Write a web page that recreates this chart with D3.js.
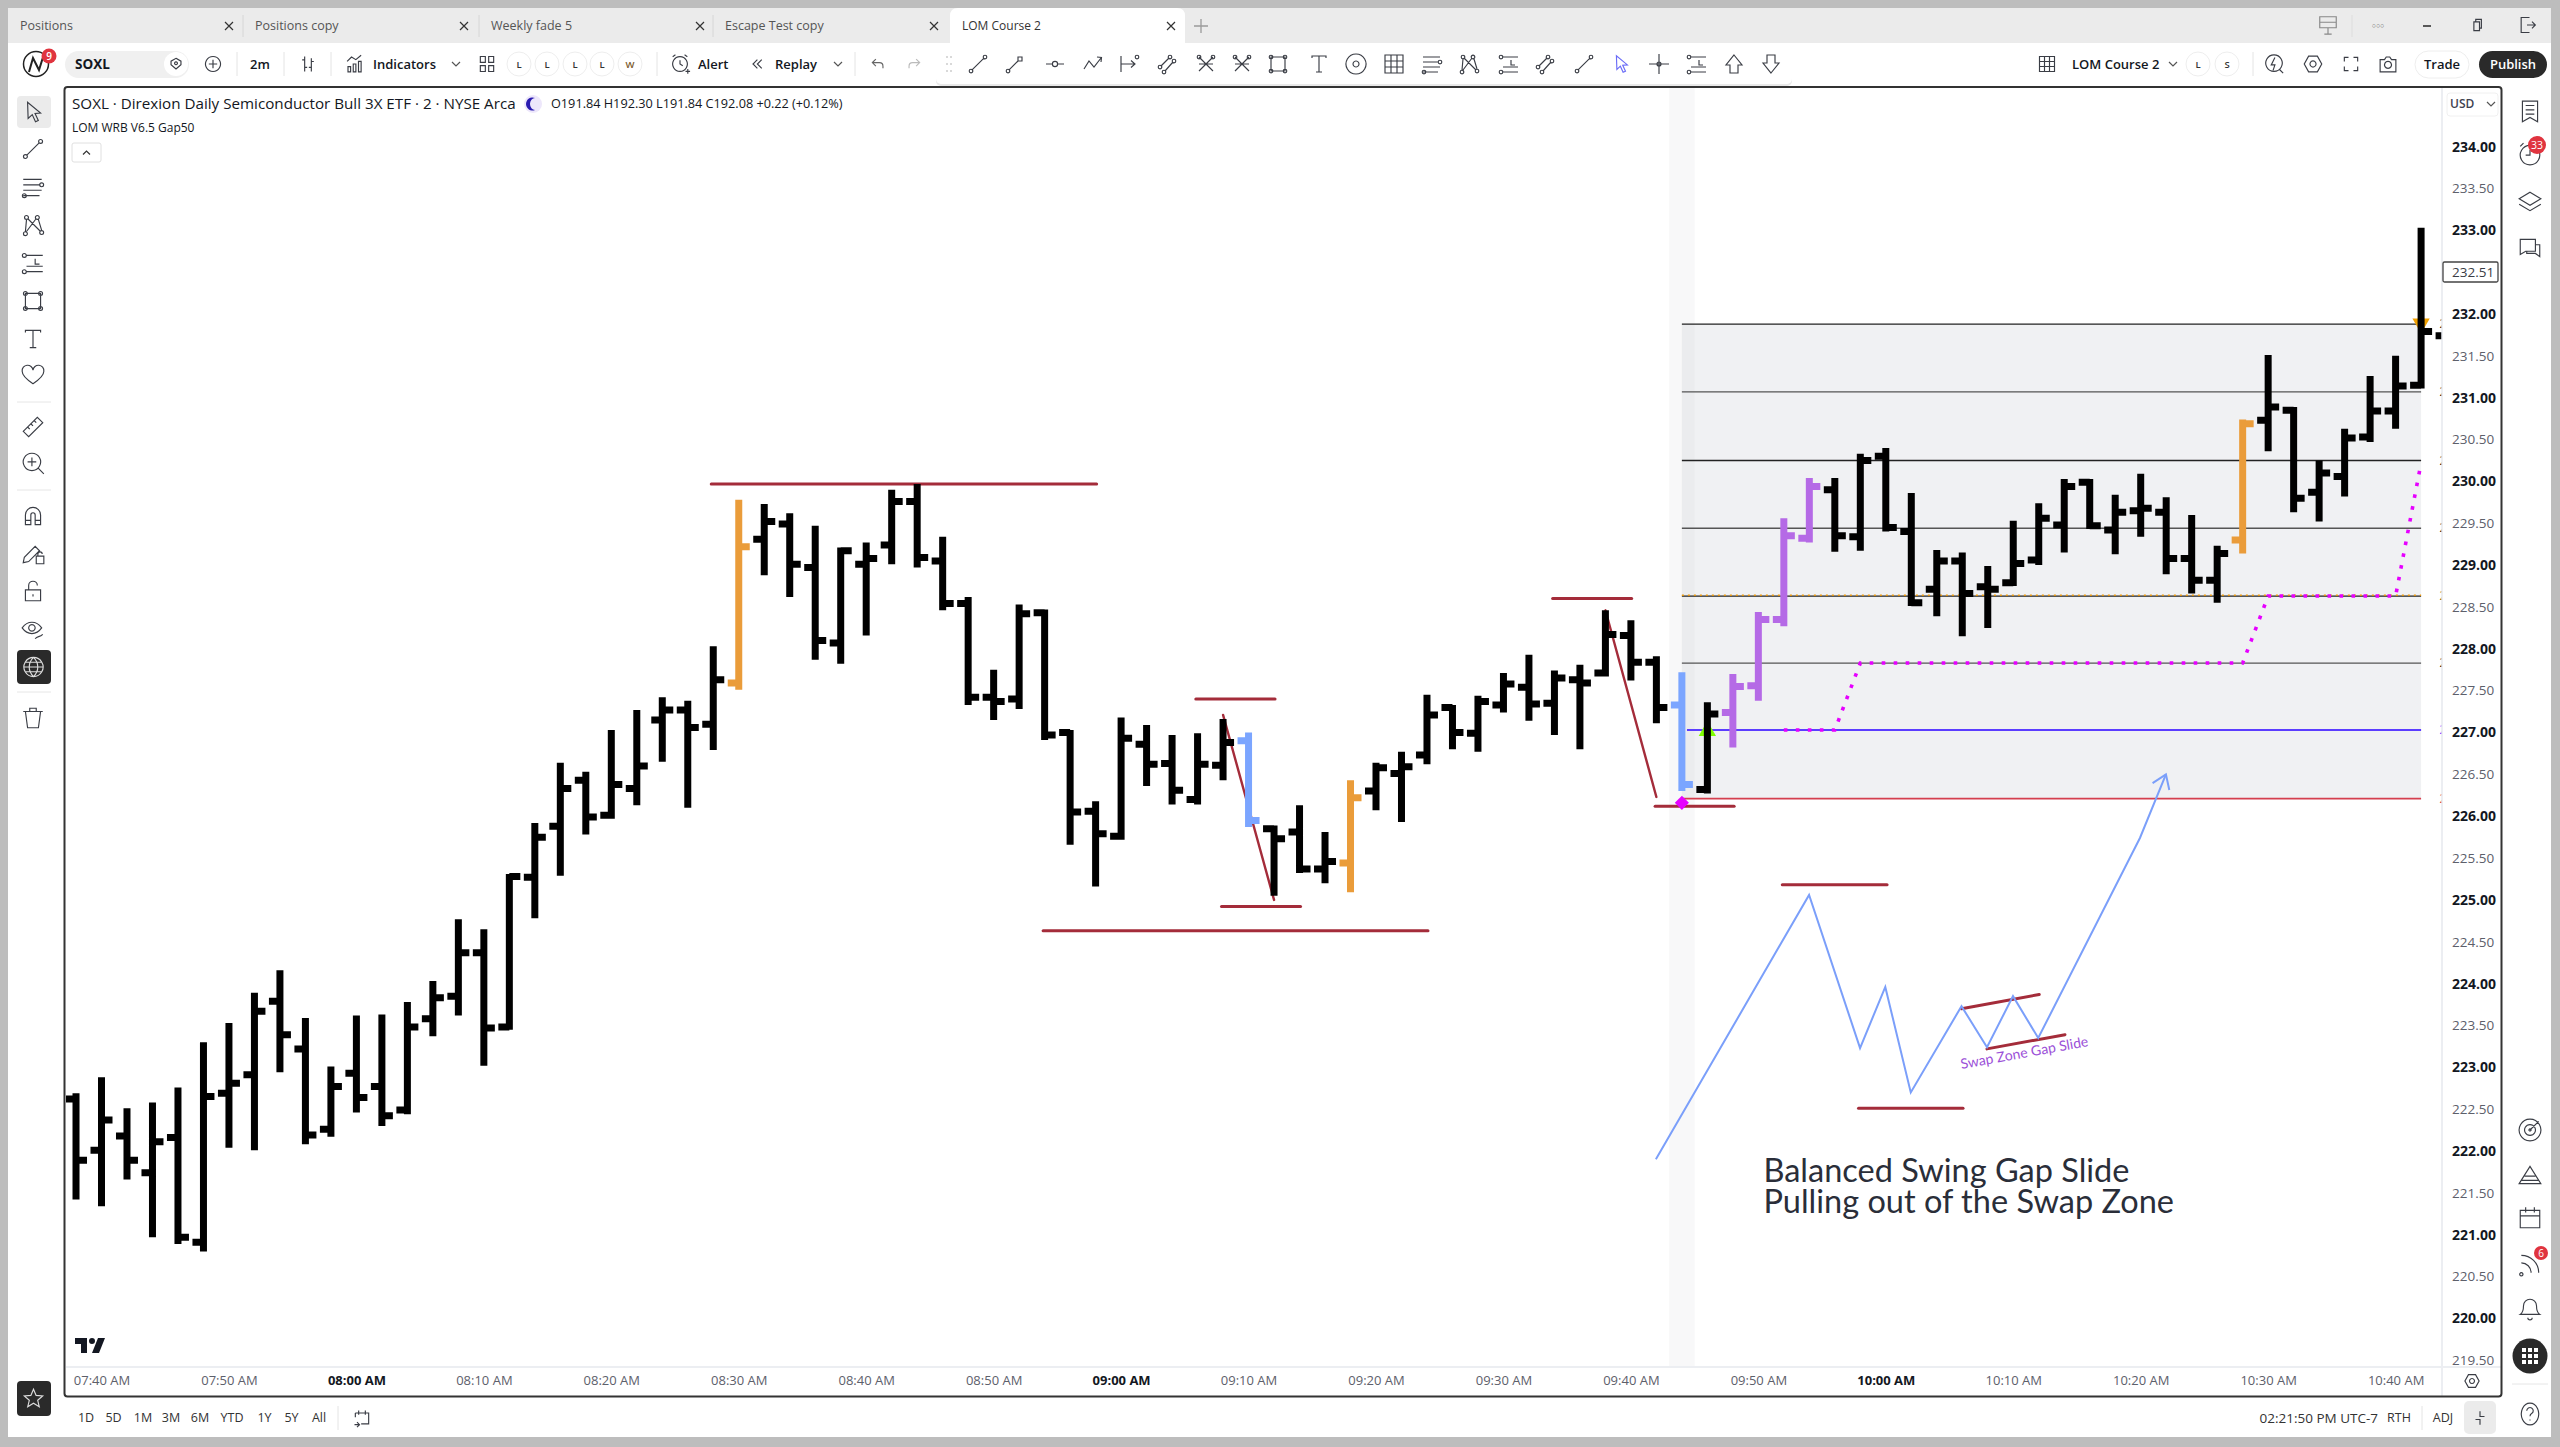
<!DOCTYPE html>
<html>
<head>
<meta charset="utf-8">
<script src="https://cdn.jsdelivr.net/npm/d3@7"></script>
<style>
  html, body { margin: 0; padding: 0; background: #bdbdbd; }
  svg { display: block; }
  text { font-family: "Open Sans", "Noto Sans", sans-serif; }
</style>
</head>
<body>
<svg id="chart" width="2560" height="1447"></svg>
<script>
// ---- data ----
// bars are 2 minutes apart, the first one is 07:38
const barOpen = [222.62,222.01,222.18,221.74,222.16,220.91,222.69,222.91,223.79,223.22,222.26,222.93,222.77,222.49,223.58,223.85,224.37,223.48,225.27,225.88,226.43,226.01,226.33,227.15,227.27,227.10,227.59,229.31,229.49,228.97,228.07,229.01,229.24,229.76,229.05,228.54,227.42,227.40,228.43,227.00,226.06,225.76,226.86,226.63,226.20,226.61,226.90,225.85,225.81,225.37,225.44,226.30,226.51,226.73,227.30,226.99,227.33,227.54,227.35,227.63,227.71,228.16,227.84,227.33,226.32,227.24,227.56,228.35,229.32,229.90,229.34,230.30,229.40,228.71,229.05,228.74,228.79,229.06,229.48,229.99,229.42,229.65,229.63,229.08,228.82,229.30,230.73,230.85,229.87,230.06,230.53,230.84,231.15,231.74]
const barHigh = [222.69,222.88,222.51,222.58,222.76,223.30,223.53,223.89,224.16,223.59,223.01,223.62,223.63,223.78,224.03,224.77,224.65,225.31,225.92,226.64,226.53,227.03,227.27,227.42,227.38,228.03,229.78,229.73,229.62,229.47,229.21,229.27,229.90,229.97,229.34,228.62,227.75,228.53,228.47,227.03,226.18,227.18,227.09,226.97,226.99,227.16,227.00,225.89,226.13,225.81,226.43,226.64,226.77,227.45,227.33,227.44,227.71,227.93,227.74,227.81,228.46,228.34,227.91,227.72,227.36,227.70,228.44,229.56,230.04,230.04,230.33,230.40,229.86,229.18,229.15,228.99,229.53,229.74,230.03,230.03,229.84,230.09,229.81,229.60,229.23,230.74,231.51,230.89,230.25,230.63,231.26,231.50,233.03,231.74]
const barLow = [221.42,221.34,221.66,220.97,220.89,220.80,222.04,222.01,222.94,222.08,222.17,222.46,222.30,222.44,223.37,223.62,223.02,223.45,224.78,225.29,225.78,225.97,226.13,226.65,226.10,226.79,227.51,228.88,228.62,227.87,227.82,228.16,229.01,228.97,228.46,227.33,227.15,227.28,226.91,225.66,225.16,225.72,226.36,226.14,226.14,226.43,225.87,225.05,225.32,225.20,225.09,226.07,225.93,226.62,226.80,226.77,227.24,227.14,226.97,226.80,227.67,227.62,227.11,226.30,226.27,226.82,227.38,228.27,229.27,229.16,229.17,229.40,228.51,228.39,228.15,228.25,228.75,229.00,229.15,229.43,229.13,229.34,228.89,228.66,228.55,229.14,230.36,229.63,229.52,229.82,230.47,230.63,231.11,231.74]
const barClose = [221.89,222.37,221.89,222.11,220.97,222.65,222.81,223.67,223.39,222.19,222.77,222.64,222.42,223.48,223.83,224.37,223.47,225.28,225.75,226.33,225.99,226.38,226.60,227.27,227.06,227.63,229.22,229.52,229.01,228.10,229.17,229.08,229.76,229.09,228.54,227.42,227.37,228.42,226.97,226.05,225.79,226.93,226.62,226.31,226.62,226.88,225.95,225.73,225.37,225.46,226.22,226.58,226.59,227.21,227.00,227.37,227.58,227.34,227.65,227.59,228.17,227.84,227.30,226.38,227.22,227.55,228.35,229.35,229.94,229.35,230.25,229.45,228.55,229.05,228.66,228.71,229.02,229.56,229.94,229.47,229.63,229.68,229.08,228.82,229.14,230.69,230.89,229.80,230.10,230.52,230.84,231.14,231.79,231.74]

const orangeBars = ['08:30', '09:18', '10:28']
const blueBars = ['09:10', '09:44']
const purpleBars = ['09:48', '09:50', '09:52', '09:54']

const priceTicks = d3.range(219.5, 234.5, 0.5)

// the levels of the zone on the right
const zoneTop = 231.88
const zoneBottom = 226.21
const greyLevels = [231.88, 231.07, 230.25, 229.44, 228.63, 227.83]
const blueLevel = 227.03
const orangeLevel = 228.63

// magenta stepped line, [bar number, price]
const stepLine = [[66,227.03],[68,227.03],[69,227.83],[84,227.83],[85,228.63],[90,228.63],[91,230.22]]

// drawn lines, bar numbers count from 07:40
const swingLevels = [
  [23.92,39.04,229.97],[42.93,46.04,227.40],[43.94,47.04,224.92],[36.94,52.04,224.63],
  [56.93,60.03,228.60],[60.95,64.05,226.12],[65.94,70.05,225.18],[68.93,73.03,222.51]
]
const slantLines = [
  [[44,227.21],[46,225.00]],
  [[59,228.46],[61,226.23]],
  [[72.97,223.70],[76.02,223.87]],
  [[73.97,223.22],[77.03,223.39]]
]
const sketchLine = [[60.98,221.90],[66.99,225.06],[68.99,223.23],[69.98,223.96],[70.98,222.70],[72.97,223.73],[73.97,223.24],[74.99,223.85],[75.98,223.35],[79.97,225.74],[80.99,226.50]]

const tabNames = ['Positions', 'Positions copy', 'Weekly fade 5', 'Escape Test copy', 'LOM Course 2']
const rangeNames = ['1D', '5D', '1M', '3M', '6M', 'YTD', '1Y', '5Y', 'All']

// ---- scales ----
const startTime = new Date(2024, 0, 2, 7, 40)
const barTime = n => new Date(startTime.getTime() + n * 120000)
const fmtKey = d3.timeFormat('%H:%M')

const plot = { left: 66, right: 2442, top: 88, bottom: 1367 }

const xScale = d3.scaleTime().domain([barTime(0), barTime(90)]).range([101.5, 2395.6])
const yScale = d3.scaleLinear().domain([234, 220]).range([146.6, 1318.4])

const bars = barHigh.map((h, i) => ({
  time: barTime(i - 1), open: barOpen[i], high: h, low: barLow[i], close: barClose[i]
}))

const svg = d3.select('#chart')
const dark = '#131722'
const grey = '#5d606b'
const iconCol = '#3a3d45'

function txt(g, x, y, s, o = {}) {
  return g.append('text')
    .attr('x', x).attr('y', y)
    .attr('dy', '0.35em')
    .attr('text-anchor', o.anchor || 'start')
    .attr('font-size', o.size || 13)
    .attr('font-weight', o.weight || 400)
    .attr('fill', o.fill || dark)
    .text(s)
}

const dot = (x, y, r = 1.8) => `M${x - r} ${y}a${r} ${r} 0 1 0 ${2 * r} 0a${r} ${r} 0 1 0 ${-2 * r} 0`

const icons = {
  cursor: 'M7 3l.5 15 3.8-3.6 3 6.6 2.6-1.2-3-6.4 5.1-.4z',
  line: dot(5, 19) + dot(19, 5) + 'M6.3 17.7L17.7 6.3',
  ray: dot(5, 19) + 'M6.3 17.7L15 9' + 'M15 5l4 0 0 4-4 0z',
  hline: 'M3 12h6M15 12h6' + dot(12, 12, 2.6),
  path: 'M2 17l5-8 5 6 7-9M15 5l4.5 .5-.5 4.5',
  measure: 'M4 4v16M4 12h14M14 8.5L18 12l-4 3.5' + dot(20, 5),
  channel: dot(5, 15) + dot(15, 5) + dot(9, 20) + dot(19, 9) + 'M6 14L14 6M10 19L18 10',
  fork: 'M5 5L19 19M19 5L5 19M5 12h14' + dot(5, 5) + dot(19, 5),
  lines: 'M3 5h17M3 10h15M3 15h17M3 20h15' + dot(20, 10) + dot(4, 20),
  pattern: dot(6, 5) + dot(16, 5) + dot(5, 20) + dot(20, 19) + 'M6 7l-1 11M7 6l12 12M15 6L6 18M17 7l3 10',
  longlevels: dot(4, 5) + dot(4, 20) + 'M6 5h15M6 20h15M6 15h15M14 8v5h4',
  rect: 'M5 5h14v14H5z' + dot(5, 5) + dot(19, 5) + dot(5, 19) + dot(19, 19),
  text: 'M5 6V4h14v2M12 4v16M9 20h6',
  heart: 'M12 20C6 16 2 12 2 8.500a5 5 0 0 1 10-1 5 5 0 0 1 10 1c0 3.500-4 7.500-10 11.500z',
  ruler: 'M3 16L16 3l5 5L8 21zM7 12l2 2M10 9l2 2M13 6l2 2',
  zoomin: 'M11 3a8 8 0 1 0 .01 0zM11 7v8M7 11h8M17 17l5 5',
  magnet: 'M5 20V11a7 7 0 0 1 14 0v9h-5v-9a2 2 0 0 0-4 0v9zM5 16h5M14 16h5',
  pencil: 'M3 20l1-5L14 5l4 4L8 19zM15 14h7v7h-7zM16.500 14v-2a2 2 0 0 1 4 0',
  lock: 'M5 11h14v10H5zM8 11V7a4 4 0 0 1 8 0M12 15v2',
  eye: 'M2 11c5-7 13-7 18 0-5 7-13 7-18 0zM11 8a3 3 0 1 0 .01 0zM14 21c2-3 4-1 7-4',
  trash: 'M3 6h18M9 6V3h6v3M5 6l2 15h10l2-15',
  globe: 'M12 2a10 10 0 1 0 .01 0zM2 12h20M12 2c-6 6-6 14 0 20M12 2c6 6 6 14 0 20M3.500 7h17M3.500 17h17',
  star: 'M12 2l3 7 7.500.600-5.700 5 1.800 7.400-6.600-4-6.600 4 1.800-7.400-5.700-5L9 9z',
  plusc: 'M12 3a9 9 0 1 0 .01 0zM12 7v10M7 12h10',
  barsI: 'M8 3v18M5 7h3M8 16h3M16 5v16M13 16h3M16 9h3',
  indic: 'M4 21v-6h3v6zM10 21v-9h3v9zM16 21V9h3v12zM3 9l5-5 5 3 6-5',
  grid2: 'M4 3h6v7H4zM14 3h6v7h-6zM4 14h6v7H4zM14 14h6v7h-6z',
  alert: 'M12 4a8 8 0 1 0 .01 0zM12 8v4l3 2M4 4l3-2M20 4l-3-2M18 20h5M20.500 17.500v5',
  replay: 'M11 5l-7 7 7 7M18 5l-7 7 7 7',
  undo: 'M9 5L4 10l5 5M4 10h10a5 5 0 0 1 5 5v3',
  redo: 'M15 5l5 5-5 5M20 10H10a5 5 0 0 0-5 5v3',
  circ: 'M12 2a10 10 0 1 0 .01 0zM12 9a3 3 0 1 0 .01 0z',
  gridbox: 'M3 3h18v18H3zM9 3v18M15 3v18M3 9h18M3 15h18',
  crossx: 'M12 2v20M2 12h20' + dot(12, 12, 2),
  up: 'M12 3l8 10h-4v8H8v-8H4z',
  down: 'M12 21l8-10h-4V3H8v8H4z',
  bolt: 'M12 2a9 9 0 1 0 .01 0zM13 5l-4 8h4l-2 6M18 18l4 4',
  hexa: 'M7 3h10l5 9-5 9H7l-5-9zM12 8.500a3.500 3.500 0 1 0 .01 0z',
  full: 'M4 9V4h5M15 4h5v5M20 15v5h-5M9 20H4v-5',
  camera: 'M3 7h5l2-3h4l2 3h5v14H3zM12 9a4 4 0 1 0 .01 0z',
  monitor: 'M3 3h18v12H3zM3 9h18M12 15v7M8 22h8',
  restore: 'M7 7h9v14H7zM10 7V3h9v14h-3',
  exit: 'M15 3H5v18h10M12 12h10M18 8l4 4-4 4',
  book: 'M5 2h14v19l-7-4-7 4zM8 6h8M8 10h8M8 14h8',
  clock: 'M12 4a9 9 0 1 0 .01 0zM12 8v5H8M3 5l3-3',
  layers: 'M12 3l10 6-10 6L2 9zM2 14l10 6 10-6',
  chat: 'M3 4h14v11H8l-5 3zM17 9h4v11l-4-3H9v-2',
  target: 'M12 2a10 10 0 1 0 .01 0zM12 7a5 5 0 1 0 .01 0zM12 11a1 1 0 1 0 .01 0zM12 12l8-8',
  hill: 'M2 20L12 4l10 16zM7 13h10M4 17h16',
  calendar: 'M3 5h18v16H3zM3 10h18M8 2v5M16 2v5',
  feed: 'M4 20a1.500 1.500 0 1 0 .01 0zM4 11a9 9 0 0 1 9 9M4 4a16 16 0 0 1 16 16',
  bell: 'M12 3a6 6 0 0 0-6 6c0 6-3 8-3 8h18s-3-2-3-8a6 6 0 0 0-6-6zM10 20a2 2 0 0 0 4 0',
  help: 'M12 2a8 10 0 1 0 .01 0zM9 9a3 3 0 1 1 4.500 2.600c-1 .6-1.500 1.200-1.500 2.400M12 17v1',
  calgo: 'M4 6h16v13H11M8 3v5M16 3v5M4 6v5M3 20h5M6 17l3 3-3 3',
  jump: 'M12 3v7h6M12 21v-7H6',
  diamond: 'M12 4l7 4v5l-7 6-7-6V8zM12 9a2 2 0 1 0 .01 0z'
}

function icon(g, name, cx, cy, o = {}) {
  const size = o.size || 24
  const k = size / 24
  return g.append('path')
    .attr('d', icons[name])
    .attr('transform', `translate(${cx - size / 2},${cy - size / 2}) scale(${k})`)
    .attr('fill', o.fill || 'none')
    .attr('stroke', o.stroke || iconCol)
    .attr('stroke-width', (o.sw || 1.15) / k)
}

// ---- window ----
const chrome = svg.append('g')
chrome.append('rect').attr('x', 8).attr('y', 8).attr('width', 2543).attr('height', 1429).attr('fill', '#ffffff')
chrome.append('rect').attr('x', 8).attr('y', 8).attr('width', 2543).attr('height', 35).attr('fill', '#ebebeb')

// tabs
const tabLeft = [8, 243, 479, 713, 950]
chrome.append('path')
  .attr('d', 'M950 43V16q0-8 8-8H1177q8 0 8 8V43z')
  .attr('fill', '#fff')
tabNames.forEach((name, i) => {
  txt(chrome, tabLeft[i] + 12, 26, name, { size: i == 4 ? 12 : 12.5, fill: i == 4 ? '#333' : '#555' })
  const cx = tabLeft[i] + 221
  chrome.append('path').attr('d', `M${cx - 4} 22l8 8m0-8l-8 8`).attr('stroke', '#333').attr('stroke-width', 1.2)
  if (i > 0 && i < 4) chrome.append('path').attr('d', `M${tabLeft[i]} 15v22`).attr('stroke', '#d6d6d6')
})
chrome.append('path').attr('d', 'M1201 19v14M1194 26h14').attr('stroke', '#9a9a9a').attr('stroke-width', 1.3)

// window buttons
icon(chrome, 'monitor', 2328, 25, { size: 22, stroke: '#888' })
chrome.append('path').attr('d', 'M2352 15v22').attr('stroke', '#ddd')
txt(chrome, 2378, 26, '○○○', { size: 7, anchor: 'middle', fill: '#666' })
chrome.append('path').attr('d', 'M2423 26h8').attr('stroke', '#333').attr('stroke-width', 1.6)
icon(chrome, 'restore', 2477, 25, { size: 15 })
icon(chrome, 'exit', 2527, 25, { size: 20 })

// top toolbar
chrome.append('circle').attr('cx', 36).attr('cy', 64).attr('r', 12.5).attr('fill', '#fff').attr('stroke', '#222').attr('stroke-width', 1.5)
chrome.append('path').attr('d', 'M29 72l4-14 6 12 5-16').attr('fill', 'none').attr('stroke', '#222').attr('stroke-width', 2)
chrome.append('circle').attr('cx', 49).attr('cy', 56).attr('r', 7.5).attr('fill', '#e0343f')
txt(chrome, 49, 56, '9', { size: 10, anchor: 'middle', fill: '#fff', weight: 600 })
chrome.append('rect').attr('x', 65).attr('y', 51).attr('width', 124).attr('height', 27).attr('rx', 13.5).attr('fill', '#f0f0f0')
chrome.append('circle').attr('cx', 176).attr('cy', 64).attr('r', 12).attr('fill', '#fff')
txt(chrome, 75, 64.5, 'SOXL', { size: 13.5, weight: 700 })
icon(chrome, 'diamond', 176, 64, { size: 17 })
icon(chrome, 'plusc', 213, 64, { size: 20 })
txt(chrome, 260, 64.5, '2m', { size: 13, anchor: 'middle', weight: 600 })
icon(chrome, 'barsI', 308, 64, { size: 20 })
icon(chrome, 'indic', 355, 64, { size: 21 })
txt(chrome, 373, 64.5, 'Indicators', { size: 13, weight: 600 })
const chevron = (g, cx, cy) => g.append('path').attr('d', `M${cx - 4} ${cy - 2}l4 4 4-4`).attr('fill', 'none').attr('stroke', '#555').attr('stroke-width', 1.2)
chevron(chrome, 456, 64)
icon(chrome, 'grid2', 487, 64, { size: 20 })
;[[519, 'L'], [547, 'L'], [575, 'L'], [602, 'L'], [630, 'W']].forEach(d => {
  chrome.append('circle').attr('cx', d[0]).attr('cy', 64).attr('r', 12).attr('fill', '#fff').attr('stroke', '#eee')
  txt(chrome, d[0], 64.5, d[1], { size: 9.5, anchor: 'middle', weight: 600, fill: d[1] == 'W' ? '#7a5a2a' : '#333' })
})
;[237, 284, 331, 657, 855].forEach(x => chrome.append('path').attr('d', `M${x} 52v24`).attr('stroke', '#e4e4e4'))
icon(chrome, 'alert', 680, 64, { size: 22 })
txt(chrome, 698, 64.5, 'Alert', { size: 13, weight: 600 })
icon(chrome, 'replay', 758, 64, { size: 15 })
txt(chrome, 775, 64.5, 'Replay', { size: 13, weight: 600 })
chevron(chrome, 838, 64)
icon(chrome, 'undo', 878, 64, { size: 17, stroke: '#666' })
icon(chrome, 'redo', 914, 64, { size: 17, stroke: '#bbb' })

// drawing toolbar
chrome.append('rect').attr('x', 936).attr('y', 49).attr('width', 856).attr('height', 37).attr('rx', 5).attr('fill', '#e9e9e9')
chrome.append('rect').attr('x', 936).attr('y', 46).attr('width', 856).attr('height', 38).attr('rx', 5).attr('fill', '#fff')
;[[947, 57], [947, 64], [947, 71], [951, 57], [951, 64], [951, 71]].forEach(d =>
  chrome.append('circle').attr('cx', d[0]).attr('cy', d[1]).attr('r', 1).attr('fill', '#ccc'))
;[[978, 'line'], [1015, 'ray'], [1055, 'hline'], [1094, 'path'], [1129, 'measure'], [1167, 'channel'], [1206, 'fork'], [1242, 'fork'], [1278, 'rect'],
  [1319, 'text'], [1356, 'circ'], [1394, 'gridbox'], [1432, 'lines'], [1469, 'pattern'], [1509, 'longlevels'], [1545, 'channel'], [1584, 'line'],
  [1659, 'crossx'], [1697, 'longlevels'], [1734, 'up'], [1771, 'down']
].forEach(d => icon(chrome, d[1], d[0], 64, { size: 24 }))
icon(chrome, 'cursor', 1621, 64, { size: 22, stroke: '#6a6cf7' })

// right of the top toolbar
icon(chrome, 'gridbox', 2047, 64, { size: 20 })
txt(chrome, 2072, 64.5, 'LOM Course 2', { size: 13, weight: 600 })
chevron(chrome, 2173, 64)
;[[2198, 'L'], [2227, 'S']].forEach(d => {
  chrome.append('circle').attr('cx', d[0]).attr('cy', 64).attr('r', 12).attr('fill', '#fff').attr('stroke', '#eee')
  txt(chrome, d[0], 64.5, d[1], { size: 9.5, anchor: 'middle', weight: 600, fill: '#333' })
})
chrome.append('path').attr('d', 'M2253 52v24').attr('stroke', '#e4e4e4')
icon(chrome, 'bolt', 2274, 64, { size: 22 })
icon(chrome, 'hexa', 2313, 64, { size: 21 })
icon(chrome, 'full', 2351, 64, { size: 20 })
icon(chrome, 'camera', 2388, 64, { size: 21 })
chrome.append('rect').attr('x', 2415).attr('y', 51).attr('width', 54).attr('height', 27).attr('rx', 13.5).attr('fill', '#fff').attr('stroke', '#eee')
txt(chrome, 2442, 64.5, 'Trade', { size: 13, anchor: 'middle', weight: 600 })
chrome.append('rect').attr('x', 2479).attr('y', 51).attr('width', 68).attr('height', 27).attr('rx', 13.5).attr('fill', '#2a2a2a')
txt(chrome, 2513, 64.5, 'Publish', { size: 13, anchor: 'middle', weight: 600, fill: '#fff' })

// left toolbar
chrome.append('rect').attr('x', 17).attr('y', 96).attr('width', 34).attr('height', 32).attr('rx', 4).attr('fill', '#ebebeb')
;[[112, 'cursor'], [149, 'line'], [187, 'lines'], [225, 'pattern'], [263, 'longlevels'], [301, 'rect'], [339, 'text'], [375, 'heart'],
  [427, 'ruler'], [463, 'zoomin'], [516, 'magnet'], [554, 'pencil'], [591, 'lock'], [629, 'eye'], [718, 'trash']
].forEach(d => icon(chrome, d[1], 33, d[0], { size: 26 }))
chrome.append('rect').attr('x', 17).attr('y', 650).attr('width', 34).attr('height', 34).attr('rx', 4).attr('fill', '#2a2a2a')
icon(chrome, 'globe', 33.5, 667, { size: 23, stroke: '#ddd' })
;[402, 490, 692].forEach(y => chrome.append('path').attr('d', `M17 ${y}h34`).attr('stroke', '#e6e6e6'))
chrome.append('rect').attr('x', 17).attr('y', 1381).attr('width', 34).attr('height', 35).attr('rx', 4).attr('fill', '#2a2a2a')
icon(chrome, 'star', 33.5, 1398, { size: 21, stroke: '#ddd' })

// right toolbar
;[[112, 'book'], [154, 'clock'], [202, 'layers'], [248, 'chat'], [1130, 'target'], [1175, 'hill'], [1218, 'calendar'], [1264, 'feed'], [1309, 'bell'], [1414, 'help']]
  .forEach(d => icon(chrome, d[1], 2530, d[0], { size: 26 }))
chrome.append('circle').attr('cx', 2537).attr('cy', 145).attr('r', 9).attr('fill', '#e0343f')
txt(chrome, 2537, 145, '33', { size: 10.5, anchor: 'middle', fill: '#fff' })
chrome.append('circle').attr('cx', 2541).attr('cy', 1253).attr('r', 7).attr('fill', '#e0343f')
txt(chrome, 2541, 1253, '6', { size: 10, anchor: 'middle', fill: '#fff' })
chrome.append('circle').attr('cx', 2530).attr('cy', 1356).attr('r', 17.5).attr('fill', '#2a2a2a')
d3.cross([-6, 0, 6], [-6, 0, 6]).forEach(d =>
  chrome.append('rect').attr('x', 2530 + d[0] - 2).attr('y', 1356 + d[1] - 2).attr('width', 4).attr('height', 4).attr('fill', '#fff'))
chrome.append('path').attr('d', 'M2512 1384h36').attr('stroke', '#e6e6e6')

// ---- plot ----
svg.append('clipPath').attr('id', 'plotClip').append('rect')
  .attr('x', plot.left).attr('y', plot.top)
  .attr('width', plot.right - plot.left).attr('height', plot.bottom - plot.top)

const g = svg.append('g').attr('clip-path', 'url(#plotClip)')

// session shading and zone
g.append('rect').attr('x', xScale(barTime(61.5))).attr('width', xScale(barTime(62.5)) - xScale(barTime(61.5)))
  .attr('y', plot.top).attr('height', plot.bottom - plot.top).attr('fill', '#f8f8f9')

g.append('rect')
  .attr('x', xScale(barTime(62))).attr('width', xScale(barTime(91)) - xScale(barTime(62)))
  .attr('y', yScale(zoneTop)).attr('height', yScale(zoneBottom) - yScale(zoneTop))
  .attr('fill', '#f0f1f3')
g.append('rect')
  .attr('x', xScale(barTime(62))).attr('width', xScale(barTime(62.5)) - xScale(barTime(62)))
  .attr('y', yScale(zoneTop)).attr('height', yScale(zoneBottom) - yScale(zoneTop))
  .attr('fill', '#ebecee')

g.selectAll('.level')
  .data(greyLevels)
  .join('line')
  .attr('class', 'level')
  .attr('x1', xScale(barTime(62))).attr('x2', xScale(barTime(91)))
  .attr('y1', d => yScale(d)).attr('y2', d => yScale(d))
  .attr('stroke', (d, i) => i % 2 ? '#555' : '#222')
  .attr('stroke-width', 1.3)

g.append('line')
  .attr('x1', xScale(barTime(62))).attr('x2', xScale(barTime(91)))
  .attr('y1', yScale(orangeLevel) - 0.8).attr('y2', yScale(orangeLevel) - 0.8)
  .attr('stroke', '#e8980f').attr('stroke-width', 1.3).attr('stroke-dasharray', '2 4')

g.append('line')
  .attr('x1', xScale(barTime(62.2))).attr('x2', xScale(barTime(91)))
  .attr('y1', yScale(blueLevel)).attr('y2', yScale(blueLevel))
  .attr('stroke', '#5b3dff').attr('stroke-width', 2)

g.append('line')
  .attr('x1', xScale(barTime(62))).attr('x2', xScale(barTime(91)))
  .attr('y1', yScale(zoneBottom)).attr('y2', yScale(zoneBottom))
  .attr('stroke', '#d43f4e').attr('stroke-width', 1.8)

// what is left of the level labels at the axis edge
const levelLabels = greyLevels.concat([blueLevel, zoneBottom])
g.selectAll('.level-label')
  .data(levelLabels)
  .join('text')
  .attr('class', 'level-label')
  .attr('x', plot.right - 2.5)
  .attr('y', d => yScale(d))
  .attr('dy', '0.35em')
  .attr('font-size', 12)
  .attr('fill', d => d == blueLevel ? '#5b3dff' : d == zoneBottom ? '#d43f4e' : d == orangeLevel ? '#8a6a20' : '#222')
  .text(d => String(d)[0])

// drawn lines behind the bars
const lineGen = d3.line().x(d => xScale(barTime(d[0]))).y(d => yScale(d[1]))

g.selectAll('.swing')
  .data(swingLevels)
  .join('line')
  .attr('class', 'swing')
  .attr('x1', d => xScale(barTime(d[0]))).attr('x2', d => xScale(barTime(d[1])))
  .attr('y1', d => yScale(d[2])).attr('y2', d => yScale(d[2]))
  .attr('stroke', '#a42c3a').attr('stroke-width', 3).attr('stroke-linecap', 'round')

g.selectAll('.slant')
  .data(slantLines)
  .join('path')
  .attr('class', 'slant')
  .attr('d', lineGen)
  .attr('stroke', '#a42c3a')
  .attr('stroke-width', (d, i) => i < 2 ? 2.4 : 3)
  .attr('stroke-linecap', 'round')
  .attr('fill', 'none')

g.append('path')
  .attr('d', lineGen(sketchLine))
  .attr('fill', 'none').attr('stroke', '#7b9ffa').attr('stroke-width', 2).attr('stroke-linejoin', 'miter')

// arrow head at the end of the sketch
const tip = sketchLine[sketchLine.length - 1]
const prev = sketchLine[sketchLine.length - 2]
const tipX = xScale(barTime(tip[0])), tipY = yScale(tip[1])
const ang = Math.atan2(yScale(prev[1]) - tipY, xScale(barTime(prev[0])) - tipX)
g.append('path')
  .attr('d', d3.line()([
    [tipX + 16 * Math.cos(ang - 0.6), tipY + 16 * Math.sin(ang - 0.6)],
    [tipX, tipY],
    [tipX + 16 * Math.cos(ang + 0.6), tipY + 16 * Math.sin(ang + 0.6)]
  ]))
  .attr('fill', 'none').attr('stroke', '#7b9ffa').attr('stroke-width', 2)

// signal marks
g.append('path')
  .attr('d', d3.symbol(d3.symbolTriangle, 130))
  .attr('transform', `translate(${xScale(barTime(63))},${yScale(blueLevel) + 1})`)
  .attr('fill', '#7fff00')
g.append('path')
  .attr('d', d3.symbol(d3.symbolTriangle, 130))
  .attr('transform', `translate(${xScale(barTime(91))},${yScale(zoneTop) - 0.5}) rotate(180)`)
  .attr('fill', '#f0a000')

// the bars
const barColor = d => {
  const k = fmtKey(d.time)
  if (orangeBars.includes(k)) return '#ea9c3a'
  if (blueBars.includes(k)) return '#7ba5ff'
  if (purpleBars.includes(k)) return '#b56ae6'
  return '#000000'
}

g.selectAll('.bar')
  .data(bars)
  .join('path')
  .attr('class', 'bar')
  .attr('d', d => {
    const x = xScale(d.time)
    return `M${x} ${yScale(d.high)}V${yScale(d.low)}M${x - 11} ${yScale(d.open)}H${x}M${x} ${yScale(d.close)}H${x + 11}`
  })
  .attr('stroke', barColor)
  .attr('stroke-width', 7)
  .attr('fill', 'none')

// magenta dotted step line and diamond on top
g.append('path')
  .attr('d', lineGen(stepLine))
  .attr('fill', 'none').attr('stroke', '#e600ff').attr('stroke-width', 3.6).attr('stroke-dasharray', '3.6 8.4')

g.append('path')
  .attr('d', d3.symbol(d3.symbolSquare, 100))
  .attr('transform', `translate(${xScale(barTime(62))},${yScale(226.16)}) rotate(45)`)
  .attr('fill', '#e600ff')

// annotation texts
g.append('text')
  .attr('transform', `translate(${xScale(barTime(72.97))},${yScale(222.98)}) rotate(-10.2)`)
  .attr('font-size', 14)
  .attr('fill', '#9b4fd8')
  .style('font-family', 'Lato')
  .text('Swap Zone Gap Slide')

const noteLines = ['Balanced Swing Gap Slide', 'Pulling out of the Swap Zone']
g.selectAll('.note')
  .data(noteLines)
  .join('text')
  .attr('class', 'note')
  .attr('x', xScale(barTime(65.2)))
  .attr('y', (d, i) => yScale(221.63 - i * 0.375))
  .attr('font-size', 32.5)
  .attr('fill', '#2a2e39')
  .style('font-family', 'Lato')
  .text(d => d)

// TV logo
g.append('path')
  .attr('d', 'M14 6H2v6h6v9h6V6zm12 15h-7l6-15h7l-6 15zm-7-9a3 3 0 1 0 0-6 3 3 0 0 0 0 6z')
  .attr('transform', 'translate(73,1332)')
  .attr('fill', dark)

// legend on the plot
const legend = svg.append('g')
txt(legend, 72, 104, 'SOXL · Direxion Daily Semiconductor Bull 3X ETF · 2 · NYSE Arca', { size: 15.2 })
legend.append('circle').attr('cx', 533).attr('cy', 104).attr('r', 9).attr('fill', '#ede7fb')
legend.append('path').attr('d', 'M535 98a6.500 6.500 0 1 0 0 12a5 6 0 0 1 0-12z').attr('fill', '#2a1bb0')
txt(legend, 551, 104, 'O191.84 H192.30 L191.84 C192.08 +0.22 (+0.12%)', { size: 12.7 })
txt(legend, 72, 128, 'LOM WRB V6.5 Gap50', { size: 12 })
legend.append('rect').attr('x', 72).attr('y', 143).attr('width', 29).attr('height', 19).attr('rx', 2).attr('fill', '#fff').attr('stroke', '#e0e0e0')
legend.append('path').attr('d', 'M83 154.500l3.500-3.500 3.500 3.500').attr('fill', 'none').attr('stroke', '#333').attr('stroke-width', 1.2)

// ---- axes ----
svg.append('rect').attr('x', plot.right).attr('y', plot.top).attr('width', 60).attr('height', 1309).attr('fill', '#fff')
svg.append('rect').attr('x', plot.left).attr('y', plot.bottom).attr('width', 2436).attr('height', 30).attr('fill', '#fff')
svg.append('path').attr('d', `M${plot.right} ${plot.top}V1396`).attr('stroke', '#e6e8ee').attr('stroke-width', 1.5)
svg.append('path').attr('d', `M66 ${plot.bottom}H2502`).attr('stroke', '#eceef2').attr('stroke-width', 2)

const yAxis = d3.axisRight(yScale)
  .tickValues(priceTicks)
  .tickFormat(d3.format('.2f'))
  .tickSize(0)
  .tickPadding(0)

const yAxisG = svg.append('g')
  .attr('transform', 'translate(2452,0)')
  .call(yAxis)
yAxisG.select('.domain').remove()
yAxisG.selectAll('text')
  .attr('font-family', '"Open Sans"')
  .attr('font-size', d => d % 1 == 0 ? 14 : 13.5)
  .attr('font-weight', d => d % 1 == 0 ? 700 : 400)
  .attr('fill', d => d % 1 == 0 ? dark : grey)

const xAxis = d3.axisBottom(xScale)
  .tickValues(d3.range(0, 95, 5).map(barTime))
  .tickFormat(d3.timeFormat('%I:%M %p'))
  .tickSize(0)
  .tickPadding(9)

const xAxisG = svg.append('g')
  .attr('transform', `translate(0,${plot.bottom})`)
  .call(xAxis)
xAxisG.select('.domain').remove()
xAxisG.selectAll('text')
  .attr('font-family', '"Open Sans"')
  .attr('font-size', 13)
  .attr('font-weight', d => d.getMinutes() == 0 ? 700 : 400)
  .attr('fill', d => d.getMinutes() == 0 ? dark : grey)

// currency box and the price box
svg.append('rect').attr('x', 2447).attr('y', 93).attr('width', 51).attr('height', 23).attr('rx', 3).attr('fill', '#fff').attr('stroke', '#f0f0f0')
txt(svg, 2450, 104, 'USD', { size: 12, weight: 600, fill: '#3f4250' })
chevron(svg, 2491, 104)
svg.append('rect').attr('x', 2443).attr('y', 262).attr('width', 55).attr('height', 20).attr('rx', 1.5).attr('fill', '#fff').attr('stroke', '#444').attr('stroke-width', 1.3)
txt(svg, 2452, 272.500, '232.51', { size: 13.5, fill: '#3a3d45' })

// frame of the chart
svg.append('rect').attr('x', 64.5).attr('y', 87).attr('width', 2437).attr('height', 1309.5).attr('rx', 3)
  .attr('fill', 'none').attr('stroke', '#333').attr('stroke-width', 2)

// bottom bar
rangeNames.forEach((name, i) => {
  txt(chrome, [86, 113.5, 143, 171, 200, 232, 264.5, 291.5, 319][i], 1418, name, { size: 12.5, anchor: 'middle', fill: '#333' })
})
chrome.append('path').attr('d', 'M338 1406v24').attr('stroke', '#e4e4e4')
icon(chrome, 'calgo', 362, 1418, { size: 20 })
txt(chrome, 2378, 1418, '02:21:50 PM UTC-7', { size: 13.5, anchor: 'end', fill: '#333' })
txt(chrome, 2399, 1418, 'RTH', { size: 12.5, anchor: 'middle', fill: '#333' })
chrome.append('path').attr('d', 'M2422 1406v24').attr('stroke', '#e4e4e4')
txt(chrome, 2443, 1418, 'ADJ', { size: 12.5, anchor: 'middle', fill: '#333' })
chrome.append('rect').attr('x', 2464).attr('y', 1401).attr('width', 32).attr('height', 33).attr('rx', 5).attr('fill', '#ebebeb')
icon(chrome, 'jump', 2480, 1418, { size: 18 })
icon(svg, 'hexa', 2472, 1381, { size: 17 })
</script>
</body>
</html>
